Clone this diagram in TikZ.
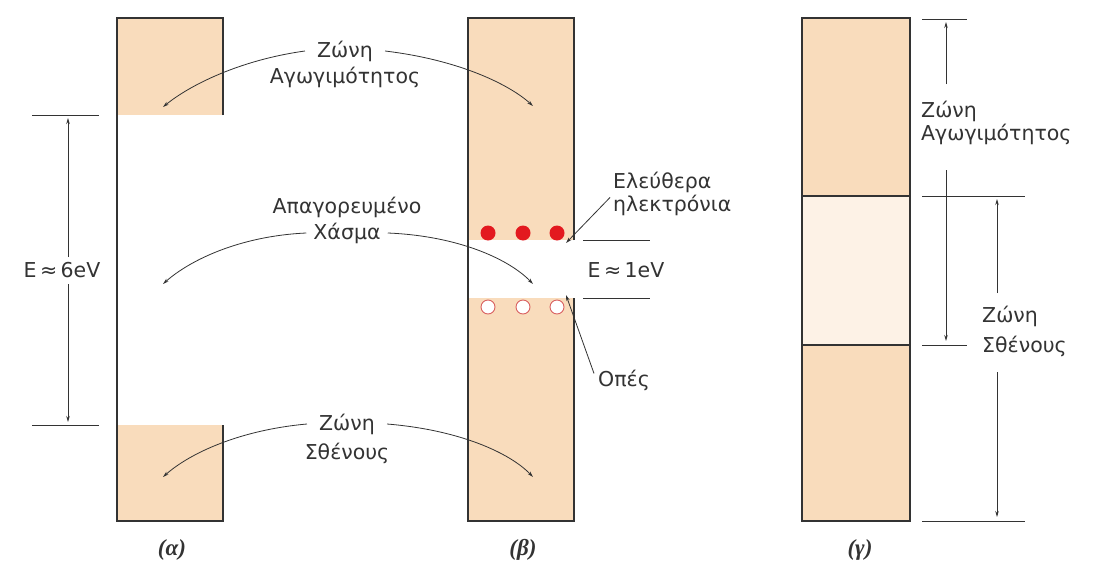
\documentclass[tikz,border=0pt]{standalone}
\usepackage{fontspec}
\setmainfont{DejaVu Sans}
\newfontfamily\labfont{Liberation Serif}
\usetikzlibrary{arrows.meta}
\definecolor{peach}{HTML}{F9DCBC}
\definecolor{paleband}{HTML}{FDF2E6}
\definecolor{ink}{HTML}{333333}
\definecolor{dotred}{HTML}{E3191F}
\definecolor{holered}{HTML}{D9605F}
\begin{document}
\begin{tikzpicture}[x=1pt,y=-1pt,
  edge/.style={draw=ink, line width=1.1pt},
  lbl/.style={font=\fontsize{20.5}{24}\selectfont, text=ink, inner sep=0pt},
  sublbl/.style={font=\labfont\bfseries\itshape\fontsize{23}{26}\selectfont, text=ink, inner sep=0pt},
  arr/.style={draw=ink, line width=0.8pt, -{Stealth[length=6pt,width=3.5pt]}},
  tickline/.style={draw=ink, line width=1pt},
  dot/.style={fill=dotred},
  hole/.style={draw=holered, fill=white, line width=0.9pt}]
\fill[white] (0,0) rectangle (1094,562);
\useasboundingbox (0,0) rectangle (1094,562);

% (alpha)
\fill[peach] (117,18) rectangle (223,115);
\fill[peach] (117,425) rectangle (223,521);
\draw[edge] (223,115) -- (223,18) -- (117,18) -- (117,521) -- (223,521) -- (223,425);
% (beta)
\fill[peach] (468,18) rectangle (574,240);
\fill[peach] (468,298) rectangle (574,521);
\draw[edge] (574,240) -- (574,18) -- (468,18) -- (468,521) -- (574,521) -- (574,298);
% (gamma)
\fill[peach] (802,18) rectangle (910,196);
\fill[paleband] (802,196) rectangle (910,345);
\fill[peach] (802,345) rectangle (910,521);
\draw[edge] (802,18) rectangle (910,521);
\draw[edge] (802,196) -- (910,196) (802,345) -- (910,345);
\draw[ink, line width=2.6pt] (802,196) -- (802,345);

% electrons and holes
\foreach \i/\x in {1/488,2/523,3/557}{
  \fill[dot] (\x,233) circle (7.5);
  \coordinate (el\i) at (\x,233);
  \draw[hole] (\x,307) circle (7);
  \coordinate (ho\i) at (\x,307);
}

% energy gap markers
\draw[tickline] (32,115) -- (99,115) (32,425) -- (99,425);
\node[lbl] (e6) at (62,270) {E\,≈\,6eV};
\coordinate (e6top) at (68,118);
\coordinate (e6bot) at (68,422);
\draw[arr] (68,257) -- (e6top);
\draw[arr] (68,284) -- (e6bot);

\draw[tickline] (583,240) -- (650,240) (583,298) -- (650,298);
\node[lbl] (e1) at (626,270) {E\,≈\,1eV};

% central labels
\node[lbl] (cbz) at (345,51) {Ζώνη};
\node[lbl] (cba) at (345,77) {Αγωγιμότητος};
\node[lbl] (gapa) at (347,207) {Απαγορευμένο};
\node[lbl] (gapx) at (347,233) {Χάσμα};
\node[lbl] (vbz) at (347,424) {Ζώνη};
\node[lbl] (vbs) at (347,453) {Σθένους};

\coordinate (tA) at (163,107);
\coordinate (tB) at (533,106);
\coordinate (gA) at (163,284);
\coordinate (gB) at (533,284);
\coordinate (bA) at (163,477);
\coordinate (bB) at (533,477);

\draw[arr] ([xshift=-12pt]cbz.west) .. controls (240,60) and (190,85) .. (tA);
\draw[arr] ([xshift=12pt]cbz.east) .. controls (460,60) and (510,85) .. (tB);
\draw[arr] ([xshift=-7pt]gapx.west) .. controls (240,236) and (190,260) .. (gA);
\draw[arr] ([xshift=7pt]gapx.east) .. controls (460,236) and (510,260) .. (gB);
\draw[arr] ([xshift=-12pt]vbz.west) .. controls (240,430) and (190,453) .. (bA);
\draw[arr] ([xshift=12pt]vbz.east) .. controls (460,430) and (510,453) .. (bB);

% electrons / holes labels
\node[lbl, anchor=west] (fe1) at (613,182) {Ελεύθερα};
\node[lbl, anchor=west] (fe2) at (613,205) {ηλεκτρόνια};
\draw[arr] ([shift={(-3pt,-3pt)}]fe2.north west) -- ([shift={(9pt,-10pt)}]el3);
\node[lbl, anchor=west] (op) at (598,380) {Οπές};
\draw[arr] ([shift={(-4pt,-4pt)}]op.north west) -- ([shift={(9pt,12pt)}]ho3);

% (gamma) markers
\draw[tickline] (922,19) -- (967,19) (922,196) -- (1025,196)
                (922,345) -- (967,345) (922,521) -- (1025,521);
\node[lbl, anchor=west] (gcz) at (921,111) {Ζώνη};
\node[lbl, anchor=west] (gca) at (921,134) {Αγωγιμότητος};
\coordinate (gct) at (946,22);
\coordinate (gcb) at (946,341);
\draw[arr] (946,84) -- (gct);
\draw[arr] (946,170) -- (gcb);
\node[lbl, anchor=west] (gvz) at (982,316) {Ζώνη};
\node[lbl, anchor=west] (gvs) at (982,346) {Σθένους};
\coordinate (gvt) at (997,199);
\coordinate (gvb) at (997,517);
\draw[arr] (997,293) -- (gvt);
\draw[arr] (997,372) -- (gvb);

% sub-figure labels
\node[sublbl] (la) at (172,550) {(α)};
\node[sublbl] (lb) at (523,550) {(β)};
\node[sublbl] (lc) at (860,550) {(γ)};
\end{tikzpicture}
\end{document}
